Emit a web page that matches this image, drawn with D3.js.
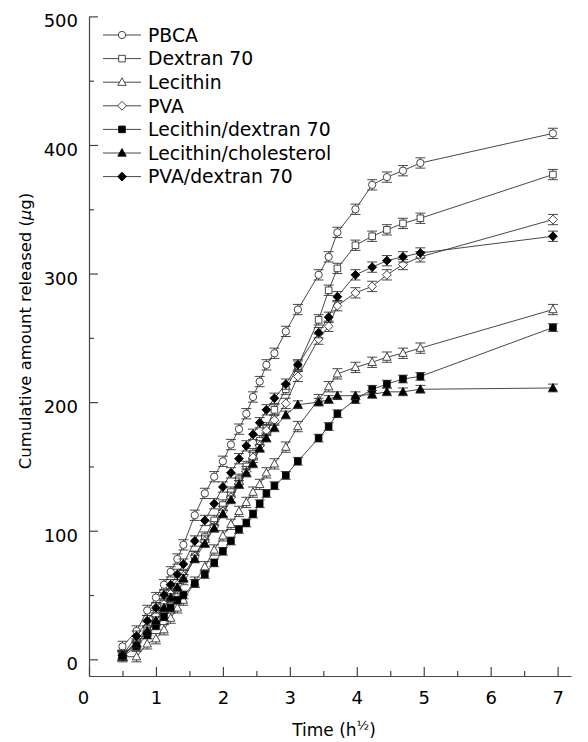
<!DOCTYPE html>
<html>
<head>
<meta charset="utf-8">
<script src="https://cdn.jsdelivr.net/npm/d3@7"></script>
<style>
  body { margin: 0; background: #fff; }
  svg { font-family: "DejaVu Sans", "Noto Sans", sans-serif; }
</style>
</head>
<body>
<svg id="chart" width="588" height="742"></svg>
<script>
// time points, h^1/2
const times = [0.5, 0.71, 0.87, 1.0, 1.12, 1.22, 1.32, 1.41, 1.58, 1.73, 1.87, 2.0, 2.12, 2.24, 2.35,
    2.45, 2.55, 2.65, 2.77, 2.94, 3.12, 3.43, 3.58, 3.71, 3.98, 4.23, 4.45, 4.69, 4.95, 6.93];

const seriesNames = ['PBCA', 'Dextran 70', 'Lecithin', 'PVA', 'Lecithin/dextran 70', 'Lecithin/cholesterol', 'PVA/dextran 70'];

const pbca = [10, 22, 38, 48, 58, 68, 78, 89, 112, 129, 142, 154, 167, 179, 191,
    204, 216, 229, 238, 255, 272, 299, 313, 332, 350, 369, 375, 380, 386, 409];
const dextran70 = [3, 12, 22, 30, 40, 48, 55, 62, 80, 95, 108, 120, 130, 140, 150,
    160, 170, 180, 194, 210, 228, 264, 287, 304, 322, 329, 334, 339, 343, 377];
const lecithin = [2, 2, 12, 16, 23, 32, 40, 46, 60, 72, 85, 96, 105, 115, 122,
    130, 136, 145, 152, 165, 181, 202, 212, 222, 227, 231, 235, 238, 242, 272];
const pva = [3, 14, 25, 34, 43, 51, 58, 65, 80, 92, 103, 115, 126, 137, 146,
    157, 166, 178, 186, 199, 220, 249, 259, 275, 285, 290, 299, 307, 313, 342];
const lecDextran = [2, 10, 19, 26, 33, 40, 46, 50, 59, 66, 75, 84, 92, 101, 106,
    113, 121, 129, 135, 143, 154, 172, 181, 191, 202, 210, 214, 218, 220, 258];
const lecCholesterol = [3, 12, 22, 30, 40, 48, 56, 63, 78, 90, 102, 113, 124, 136, 145,
    152, 164, 172, 180, 190, 198, 200, 202, 205, 205, 206, 208, 208, 210, 211];
const pvaDextran = [3, 18, 30, 40, 50, 58, 66, 74, 92, 108, 121, 134, 145, 156, 166,
    175, 184, 194, 203, 214, 229, 254, 266, 282, 299, 305, 310, 313, 316, 329];

// standard deviation shown as error bar, per series
const sd = [4, 4, 4, 4, 3, 3, 4];

const xTicks = [0, 1, 2, 3, 4, 5, 6, 7];
const yTicks = [0, 100, 200, 300, 400, 500];

const allValues = [pbca, dextran70, lecithin, pva, lecDextran, lecCholesterol, pvaDextran];
const markerTypes = ['circle', 'square', 'triangle', 'diamond', 'square', 'triangle', 'diamond'];
const markerFilled = [false, false, false, false, true, true, true];

const svg = d3.select('#chart');
const ink = '#000';

const x = d3.scaleLinear().domain([0, 7.2]).range([89, 571]);
const y = d3.scaleLinear().domain([-13, 500]).range([676, 16.4]);

// marker shapes
function markerPath(type) {
    if (type === 'circle') return d3.symbol(d3.symbolCircle, 42)();
    if (type === 'square') {
        const s = 3.3;
        return `M${-s},${-s}H${s}V${s}H${-s}Z`;
    }
    if (type === 'triangle') {
        const s = 4.2;
        return `M0,${-s * 1.05}L${s},${s * 0.75}L${-s},${s * 0.75}Z`;
    }
    const s = 4.4;
    return `M0,${-s}L${s},0L0,${s}L${-s},0Z`;
}

// axes
const xAxis = svg.append('g')
    .attr('transform', 'translate(0,676)')
    .call(d3.axisBottom(x).tickValues(xTicks).tickSize(-9).tickSizeOuter(0).tickPadding(15));
xAxis.selectAll('text').filter(d => d === 0).attr('dx', '-6');

svg.append('g')
    .attr('transform', 'translate(0,676)')
    .call(d3.axisBottom(x).tickValues(d3.range(0.5, 7, 1)).tickSize(-5).tickFormat(''))
    .call(g => g.select('.domain').remove());

const yAxis = svg.append('g')
    .attr('transform', 'translate(89,0)')
    .call(d3.axisLeft(y).tickValues(yTicks).tickSize(-9).tickSizeOuter(0).tickPadding(11));
yAxis.selectAll('text').attr('dy', '0.58em');

svg.append('g')
    .attr('transform', 'translate(89,0)')
    .call(d3.axisLeft(y).tickValues(d3.range(50, 500, 100)).tickSize(-5).tickFormat(''))
    .call(g => g.select('.domain').remove());

svg.selectAll('.domain, .tick line').attr('stroke', '#444').attr('stroke-width', 1.2);
svg.selectAll('.tick text').attr('fill', ink).style('font-size', '18px').style('font-family', '"DejaVu Sans", sans-serif');

// axis titles
svg.append('text')
    .attr('transform', 'translate(31,331) rotate(-90)')
    .attr('text-anchor', 'middle')
    .attr('fill', ink)
    .style('font-size', '16.4px')
    .call(t => {
        t.append('tspan').text('Cumulative amount released (');
        t.append('tspan').style('font-style', 'italic').text('\u03bc');
        t.append('tspan').text('g)');
    });

svg.append('text')
    .attr('x', 334)
    .attr('y', 736)
    .attr('text-anchor', 'middle')
    .attr('fill', ink)
    .style('font-size', '17px')
    .call(t => {
        t.append('tspan').text('Time (h');
        t.append('tspan').attr('dy', -6).style('font-size', '13px').text('\u00bd');
        t.append('tspan').attr('dy', 6).text(')');
    });

// series
const line = d3.line().x(d => x(d[0])).y(d => y(d[1]));

allValues.forEach((values, i) => {
    const pts = times.map((t, j) => [t, values[j]]);
    const g = svg.append('g').attr('class', 'series');

    g.append('path')
        .datum(pts)
        .attr('d', line)
        .attr('fill', 'none')
        .attr('stroke', '#333')
        .attr('stroke-width', 0.9);

    // error bars
    const eb = g.selectAll('g.err').data(pts).enter().append('g').attr('class', 'err');
    eb.append('line')
        .attr('x1', d => x(d[0])).attr('x2', d => x(d[0]))
        .attr('y1', d => y(d[1] - sd[i])).attr('y2', d => y(d[1] + sd[i]))
        .attr('stroke', '#333').attr('stroke-width', 0.9);
    eb.selectAll('line.cap')
        .data(d => [d[1] - sd[i], d[1] + sd[i]].map(v => [d[0], v]))
        .enter()
        .append('line')
        .attr('class', 'cap')
        .attr('x1', d => x(d[0]) - 5).attr('x2', d => x(d[0]) + 5)
        .attr('y1', d => y(d[1])).attr('y2', d => y(d[1]))
        .attr('stroke', '#333').attr('stroke-width', 0.9);

    g.selectAll('path.mark')
        .data(pts)
        .enter()
        .append('path')
        .attr('class', 'mark')
        .attr('transform', d => `translate(${x(d[0])},${y(d[1])})`)
        .attr('d', markerPath(markerTypes[i]))
        .attr('fill', markerFilled[i] ? '#000' : '#fff')
        .attr('stroke', markerFilled[i] ? '#000' : '#333')
        .attr('stroke-width', 0.9);
});

// legend
const legend = svg.append('g').attr('class', 'legend');
seriesNames.forEach((name, i) => {
    const ly = 35 + i * 23.6;
    legend.append('line')
        .attr('x1', 103).attr('x2', 141)
        .attr('y1', ly).attr('y2', ly)
        .attr('stroke', '#333').attr('stroke-width', 0.9);
    legend.append('path')
        .attr('transform', `translate(122,${ly})`)
        .attr('d', markerPath(markerTypes[i]))
        .attr('fill', markerFilled[i] ? '#000' : '#fff')
        .attr('stroke', markerFilled[i] ? '#000' : '#333')
        .attr('stroke-width', 0.9);
    legend.append('text')
        .attr('x', 148)
        .attr('y', ly + 6.8)
        .attr('fill', ink)
        .style('font-size', '18.8px')
        .text(name);
});
</script>
</body>
</html>
